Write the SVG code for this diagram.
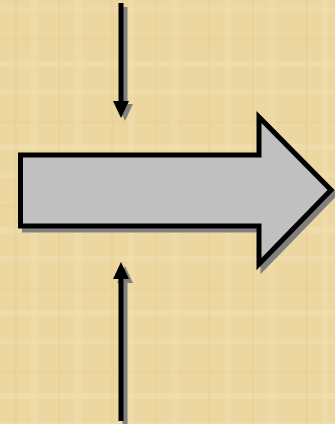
<svg xmlns="http://www.w3.org/2000/svg" width="335" height="424" viewBox="0 0 335 424">
<defs>
<pattern id="papyrus" x="0" y="0" width="97" height="83" patternUnits="userSpaceOnUse">
<rect width="97" height="83" fill="#ecd7a1"/>
<rect x="0" y="7" width="97" height="5" fill="#f2e1b3" opacity="0.45"/>
<rect x="0" y="38" width="97" height="3" fill="#e6cd92" opacity="0.35"/>
<rect x="0" y="61" width="97" height="6" fill="#f3e4b9" opacity="0.4"/>
<rect x="14" y="0" width="3" height="83" fill="#e6cc90" opacity="0.3"/>
<rect x="31" y="0" width="6" height="83" fill="#f2e0b0" opacity="0.4"/>
<rect x="58" y="0" width="2" height="83" fill="#e5cb8e" opacity="0.3"/>
<rect x="74" y="0" width="8" height="83" fill="#f1dead" opacity="0.35"/>
</pattern>
<style>
.shadow{fill:#808080;stroke:#808080;}
.big{fill:#c0c0c0;stroke:#000;stroke-width:5;stroke-linejoin:miter;}
.line{stroke:#000;stroke-width:5;fill:none;}
.lineS{stroke:#808080;stroke-width:5;fill:none;}
</style>
</defs>
<rect id="background" width="335" height="424" fill="url(#papyrus)"/>
<g id="main-arrow">
<path class="shadow" stroke-width="5" d="M24.5,159 H263 V121 L335,194 L263,268 V230 H24.5 Z"/>
<path class="big" d="M20.5,155 H259 V117 L331,190 L259,264 V226 H20.5 Z"/>
</g>
<g id="connectors">
<g id="top-arrow">
<line class="lineS" x1="125" y1="7" x2="125" y2="104"/>
<polygon fill="#808080" points="117,104 133,104 125,121"/>
<line class="line" x1="121" y1="3" x2="121" y2="101"/>
<polygon fill="#000" points="113,101 129,101 121,118"/>
</g>
<g id="bottom-arrow">
<line class="lineS" x1="125" y1="281" x2="125" y2="424"/>
<polygon fill="#808080" points="117,283 133,283 125,266"/>
<line class="line" x1="121" y1="278" x2="121" y2="421"/>
<polygon fill="#000" points="113,279 129,279 121,262"/>
</g>
</g>
</svg>
